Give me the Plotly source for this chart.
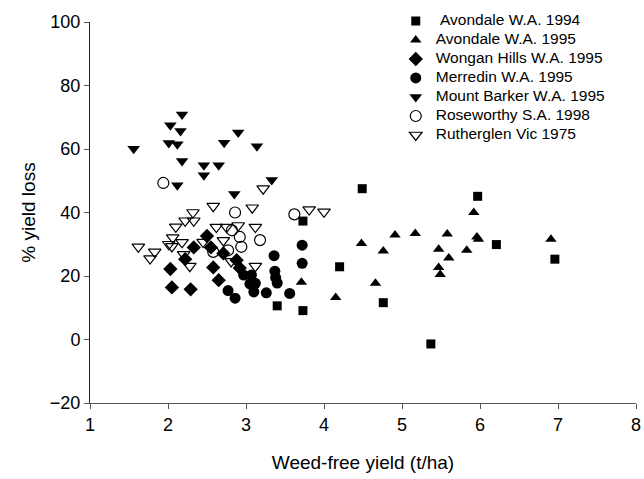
import plotly.graph_objects as go

# Avondale W.A. 1994 (filled squares)
av94_x = [3.40, 3.73, 3.73, 4.20, 4.49, 4.76, 5.37, 5.97, 6.21, 6.96]
av94_y = [10.6, 37.3, 9.1, 22.9, 47.5, 11.6, -1.4, 45.1, 29.9, 25.3]

# Avondale W.A. 1995 (filled triangles up)
av95_x = [3.71, 4.15, 4.48, 4.66, 4.76, 4.91, 5.17, 5.47, 5.47, 5.49, 5.58, 5.60, 5.83, 5.92, 5.96, 5.98, 6.91]
av95_y = [18.0, 13.2, 30.2, 17.7, 27.9, 32.9, 33.4, 28.4, 22.7, 20.5, 33.2, 25.7, 28.1, 40.0, 32.3, 31.6, 31.6]

# Wongan Hills W.A. 1995 (filled diamonds)
wh_x = [2.03, 2.05, 2.22, 2.29, 2.33, 2.50, 2.55, 2.58, 2.65, 2.71, 2.88, 2.92]
wh_y = [22.2, 16.4, 25.3, 15.8, 29.0, 32.6, 29.0, 22.7, 18.7, 27.1, 25.0, 22.5]

# Merredin W.A. 1995 (filled circles)
me_x = [2.77, 2.86, 2.97, 3.05, 3.07, 3.10, 3.12, 3.26, 3.36, 3.37, 3.38, 3.40, 3.56, 3.72, 3.72]
me_y = [15.4, 13.0, 20.3, 17.5, 20.3, 15.0, 17.7, 14.7, 26.4, 21.5, 19.5, 17.8, 14.5, 29.7, 24.0]

# Mount Barker W.A. 1995 (filled triangles down)
mb_x = [1.56, 2.01, 2.03, 2.12, 2.12, 2.16, 2.18, 2.18, 2.46, 2.46, 2.65, 2.72, 2.85, 2.90, 3.14, 3.33]
mb_y = [60.1, 61.9, 67.5, 61.5, 48.6, 65.7, 70.9, 56.2, 54.9, 51.7, 54.9, 62.0, 45.8, 65.2, 60.9, 50.2]

# Roseworthy S.A. 1998 (open circles)
rw_x = [1.94, 2.58, 2.77, 2.82, 2.86, 2.92, 2.94, 3.18, 3.62]
rw_y = [49.3, 27.6, 28.1, 34.4, 40.0, 32.3, 29.2, 31.3, 39.4]

# Rutherglen Vic 1975 (open triangles down)
ru_x = [1.62, 1.83, 1.77, 2.01, 2.05, 2.06, 2.10, 2.18, 2.20, 2.22, 2.28, 2.32, 2.33, 2.45,
        2.58, 2.62, 2.71, 2.75, 2.81, 2.90, 3.08, 3.12, 3.12, 3.22, 3.81, 4.00]
ru_y = [29.2, 27.6, 25.5, 30.0, 29.3, 32.1, 35.5, 30.6, 26.8, 37.4, 23.1, 40.0, 37.4, 30.7,
        42.0, 35.4, 31.2, 35.4, 24.6, 35.9, 41.5, 35.4, 23.1, 47.5, 40.9, 40.2]

series_names = [
    "\u00a0Avondale W.A. 1994",
    "Avondale W.A. 1995",
    "Wongan Hills W.A. 1995",
    "Merredin W.A. 1995",
    "Mount Barker W.A. 1995",
    "Roseworthy S.A. 1998",
    "Rutherglen Vic 1975",
]

x_ticks = [1, 2, 3, 4, 5, 6, 7, 8]
y_ticks = [-20, 0, 20, 40, 60, 80, 100]

series = [
    (series_names[0], av94_x, av94_y, "square", 9, 0),
    (series_names[1], av95_x, av95_y, "triangle-up", 10, 0),
    (series_names[2], wh_x, wh_y, "diamond", 11, 0),
    (series_names[3], me_x, me_y, "circle", 11, 0),
    (series_names[4], mb_x, mb_y, "triangle-down", 11, 0),
    (series_names[5], rw_x, rw_y, "circle-open", 11, 1.2),
    (series_names[6], ru_x, ru_y, "triangle-down-open", 11, 1.2),
]

fig = go.Figure()
for name, xs, ys, sym, sz, lw in series:
    marker = dict(symbol=sym, size=sz, color="black",
                  line=dict(width=lw, color="black"))
    fig.add_trace(go.Scatter(
        x=xs, y=ys, mode="markers",
        name="<span style='font-size:15.5px'>" + name + "</span>",
        marker=marker))

font_family = "Liberation Sans, Arial, sans-serif"
fig.update_layout(
    width=644, height=479,
    margin=dict(l=90, r=8, t=21, b=76),
    paper_bgcolor="white", plot_bgcolor="white",
    font=dict(family=font_family, color="black", size=18),
    showlegend=True,
    legend=dict(x=0.56, y=1.038, xanchor="left", yanchor="top",
                font=dict(size=10, family=font_family),
                bgcolor="rgba(0,0,0,0)", tracegroupgap=0),
    xaxis=dict(range=[1, 8], tickvals=x_ticks, showgrid=False, zeroline=False,
               showline=True, linecolor="#555", linewidth=1, ticks="outside",
               ticklen=5, tickcolor="#555", tickfont=dict(size=18),
               automargin=False,
               title=dict(text="Weed-free yield (t/ha)", font=dict(size=19), standoff=22)),
    yaxis=dict(range=[-20, 100], tickvals=y_ticks, showgrid=False, zeroline=False,
               showline=True, linecolor="#222", linewidth=1, ticks="outside",
               ticklen=5, tickcolor="#555", tickfont=dict(size=18),
               tickformat="d", automargin=False,
               title=dict(text="% yield loss", font=dict(size=19), standoff=9)),
)

fig.write_html(
    "out.html",
    config={"displayModeBar": False},
    post_script="document.body.style.margin='0';document.body.style.padding='0';",
)
